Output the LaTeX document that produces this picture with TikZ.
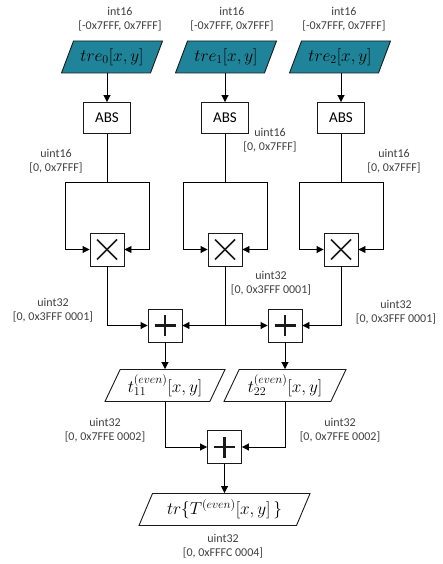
\documentclass[tikz,border=0pt]{standalone}
\usepackage{fontspec}
\setmainfont{Carlito}
\usepackage{xcolor}
\definecolor{dfteal}{HTML}{1F8499}
\definecolor{dfdark}{HTML}{1A1A1A}
\definecolor{dfgray}{HTML}{404040}
\usetikzlibrary{shapes.geometric,arrows.meta,calc}

\begin{document}
\begin{tikzpicture}[x=1pt,y=-1pt,
  datanode/.style={draw=dfdark, line width=0.9pt, trapezium,
        trapezium left angle=58, trapezium right angle=122,
        trapezium stretches body, minimum height=32, inner sep=1pt,
        font=\fontsize{17}{20}\selectfont},
  innode/.style={datanode, fill=dfteal, minimum width=101},
  absbox/.style={draw=dfdark, line width=0.9pt, minimum width=47,
        minimum height=31, font=\fontsize{15}{18}\selectfont},
  opbox/.style={draw=dfdark, line width=0.9pt, minimum width=34,
        minimum height=33, inner sep=0pt},
  mulbox/.style={opbox, path picture={
        \draw[line width=1.7pt]
          ([shift={(-10,-10)}]path picture bounding box.center) --
          ([shift={(10,10)}]path picture bounding box.center);
        \draw[line width=1.7pt]
          ([shift={(-10,10)}]path picture bounding box.center) --
          ([shift={(10,-10)}]path picture bounding box.center);}},
  addbox/.style={opbox, path picture={
        \draw[line width=2.6pt]
          ([xshift=-10.5pt]path picture bounding box.center) --
          ([xshift=10.5pt]path picture bounding box.center);
        \draw[line width=2.6pt]
          ([yshift=-10.5pt]path picture bounding box.center) --
          ([yshift=10.5pt]path picture bounding box.center);}},
  typelbl/.style={align=center, text=dfgray, inner sep=0pt,
        font=\fontsize{12}{14.5}\selectfont},
  wire/.style={line width=0.9pt},
  flow/.style={wire, -{Triangle[length=7pt,width=7pt]}}]

  \useasboundingbox (0,0) rectangle (442,564);

  %% Input type labels
  \node[typelbl] (tin0) at (120,19) {int16\\{[}-0x7FFF, 0x7FFF{]}};
  \node[typelbl] (tin1) at (232,19) {int16\\{[}-0x7FFF, 0x7FFF{]}};
  \node[typelbl] (tin2) at (344,19) {int16\\{[}-0x7FFF, 0x7FFF{]}};

  %% Input data
  \node[innode] (in0) at (112,57) {$tre_0[x,y]$};
  \node[innode] (in1) at (226,57) {$tre_1[x,y]$};
  \node[innode] (in2) at (340,57) {$tre_2[x,y]$};

  %% ABS blocks
  \node[absbox] (abs0) at (107,118) {ABS};
  \node[absbox] (abs1) at (225,118) {ABS};
  \node[absbox] (abs2) at (341,118) {ABS};

  %% Squaring blocks
  \node[mulbox] (mul0) at (107,249.5) {};
  \node[mulbox] (mul1) at (225,249.5) {};
  \node[mulbox] (mul2) at (341,249.5) {};

  %% Adders
  \node[addbox] (add0) at (165,325.5) {};
  \node[addbox] (add1) at (285,325.5) {};
  \node[addbox] (add2) at (224.5,447) {};

  %% Intermediate and output data
  \node[datanode, minimum width=120] (t11) at (165,385.5)
    {$t_{11}^{(even)}[x,y]$};
  \node[datanode, minimum width=122] (t22) at (285,385.5)
    {$t_{22}^{(even)}[x,y]$};
  \node[datanode, minimum width=171] (out) at (224.5,509.5)
    {$tr\bigl\{T^{(even)}[x,y]\,\bigr\}$};

  %% Type labels
  \node[typelbl] (tabs0) at (56,161)  {uint16\\{[}0, 0x7FFF{]}};
  \node[typelbl] (tabs1) at (270,140) {uint16\\{[}0, 0x7FFF{]}};
  \node[typelbl] (tabs2) at (394,161) {uint16\\{[}0, 0x7FFF{]}};
  \node[typelbl] (tmul0) at (53,310)  {uint32\\{[}0, 0x3FFF 0001{]}};
  \node[typelbl] (tmul1) at (271,283) {uint32\\{[}0, 0x3FFF 0001{]}};
  \node[typelbl] (tmul2) at (396,312) {uint32\\{[}0, 0x3FFF 0001{]}};
  \node[typelbl] (tt11) at (105,430)  {uint32\\{[}0, 0x7FFE 0002{]}};
  \node[typelbl] (tt22) at (340,430)  {uint32\\{[}0, 0x7FFE 0002{]}};
  \node[typelbl] (tout) at (223,546)  {uint32\\{[}0, 0xFFFC 0004{]}};

  %% Fork points
  \coordinate (fl0) at (65,182);  \coordinate (fr0) at (149,182);
  \coordinate (fl1) at (183,182); \coordinate (fr1) at (267,182);
  \coordinate (fl2) at (299,182); \coordinate (fr2) at (383,182);

  %% Inputs to ABS
  \draw[flow] (abs0.north |- in0.south) -- (abs0);
  \draw[flow] (abs1.north |- in1.south) -- (abs1);
  \draw[flow] (abs2.north |- in2.south) -- (abs2);

  %% ABS to squaring
  \draw[flow] (abs0.south) |- (fl0) |- (mul0.west);
  \draw[flow] (abs0.south) |- (fr0) |- (mul0.east);
  \draw[flow] (abs1.south) |- (fl1) |- (mul1.west);
  \draw[flow] (abs1.south) |- (fr1) |- (mul1.east);
  \draw[flow] (abs2.south) |- (fl2) |- (mul2.west);
  \draw[flow] (abs2.south) |- (fr2) |- (mul2.east);

  %% Squares to adders
  \coordinate (j1) at (mul1.south |- add0.east);
  \draw[flow] (mul0.south) |- (add0.west);
  \draw[wire] (mul1.south) -- (j1);
  \draw[flow] (j1) -- (add0.east);
  \draw[flow] (j1) -- (add1.west);
  \draw[flow] (mul2.south) |- (add1.east);

  %% Adders to output
  \draw[flow] (add0) -- (t11);
  \draw[flow] (add1) -- (t22);
  \draw[flow] (t11.south) |- (add2.west);
  \draw[flow] (t22.south) |- (add2.east);
  \draw[flow] (add2) -- (out);

\end{tikzpicture}
\end{document}
